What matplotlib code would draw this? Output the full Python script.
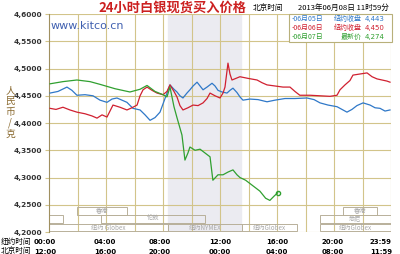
import matplotlib.pyplot as plt
import numpy as np
from matplotlib.patches import Rectangle

plt.rcParams['font.family'] = ['Noto Sans CJK SC', 'DejaVu Sans']

# 06月05日 (blue) - hours NY time, price
blue_h = [0.07, 0.63, 1.26, 1.61, 1.96, 2.53, 3.09, 3.58, 4.07, 4.42, 4.77, 5.12, 5.47, 5.89,
          6.39, 6.74, 7.09, 7.44, 7.79, 8.07, 8.28, 8.49, 8.77, 8.98, 9.19, 9.4, 9.68, 9.89,
          10.11, 10.39, 10.6, 10.81, 11.09, 11.44, 11.65, 11.86, 12.14, 12.49, 12.7, 12.91,
          13.19, 13.4, 13.61, 14.1, 14.67, 15.3, 15.86, 16.56, 17.26, 18.1, 18.6, 19.02,
          19.58, 20.21, 20.56, 20.91, 21.26, 21.61, 22.04, 22.53, 22.88, 23.23, 23.58, 23.93]
blue_p = [4.455, 4.458, 4.466, 4.460, 4.451, 4.452, 4.450, 4.442, 4.438, 4.444, 4.446, 4.442,
          4.438, 4.427, 4.424, 4.415, 4.405, 4.410, 4.420, 4.440, 4.455, 4.470, 4.462, 4.457,
          4.450, 4.446, 4.455, 4.461, 4.468, 4.475, 4.468, 4.461, 4.466, 4.473, 4.468, 4.460,
          4.457, 4.455, 4.460, 4.464, 4.456, 4.448, 4.442, 4.444, 4.443, 4.439, 4.442, 4.445,
          4.445, 4.446, 4.443, 4.437, 4.433, 4.430, 4.425, 4.420, 4.425, 4.432, 4.437, 4.433,
          4.428, 4.427, 4.422, 4.424]

# 06月06日 (red)
red_h = [0.07, 0.49, 0.98, 1.47, 1.96, 2.53, 3.02, 3.37, 3.72, 4.07, 4.49, 4.98, 5.47, 5.82,
         6.18, 6.39, 6.6, 6.88, 7.23, 7.58, 8.0, 8.28, 8.49, 8.77, 8.98, 9.19, 9.4, 9.75,
         10.11, 10.46, 10.81, 11.09, 11.3, 11.65, 12.0, 12.21, 12.35, 12.56, 12.7, 12.84,
         13.12, 13.4, 13.96, 14.6, 14.95, 15.3, 15.86, 16.42, 16.91, 17.26, 17.6, 18.32,
         19.02, 19.72, 20.21, 20.42, 20.77, 21.12, 21.33, 21.82, 22.32, 22.67, 23.02, 23.37,
         23.72, 23.93]
red_p = [4.427, 4.425, 4.429, 4.424, 4.420, 4.417, 4.413, 4.409, 4.415, 4.411, 4.433, 4.429,
         4.424, 4.428, 4.433, 4.450, 4.461, 4.466, 4.460, 4.455, 4.452, 4.458, 4.470, 4.458,
         4.448, 4.432, 4.424, 4.428, 4.433, 4.432, 4.437, 4.445, 4.455, 4.450, 4.446, 4.455,
         4.466, 4.510, 4.490, 4.479, 4.482, 4.485, 4.482, 4.479, 4.474, 4.470, 4.468, 4.466,
         4.466, 4.458, 4.451, 4.451, 4.450, 4.449, 4.451, 4.461, 4.470, 4.478, 4.488, 4.490,
         4.492, 4.485, 4.481, 4.479, 4.477, 4.475]

# 06月07日 (green, latest)
green_h = [0.07, 0.98, 1.96, 2.88, 3.58, 4.63, 5.68, 6.39, 6.88, 7.44, 8.0, 8.28, 8.49, 8.77,
           8.98, 9.33, 9.54, 9.75, 9.89, 10.25, 10.6, 10.95, 11.3, 11.5, 11.86, 12.21, 12.56,
           12.91, 13.19, 13.4, 13.8, 14.3, 14.8, 15.2, 15.5, 15.8, 16.05]
green_p = [4.472, 4.476, 4.479, 4.476, 4.471, 4.463, 4.457, 4.462, 4.469, 4.458, 4.452, 4.448,
           4.466, 4.430, 4.410, 4.378, 4.332, 4.345, 4.356, 4.350, 4.352, 4.345, 4.338, 4.295,
           4.305, 4.305, 4.310, 4.314, 4.305, 4.300, 4.295, 4.285, 4.275, 4.262, 4.258, 4.266,
           4.272]

yticks = [4.20, 4.25, 4.30, 4.35, 4.40, 4.45, 4.50, 4.55, 4.60]
ytick_labels = ['4,2000', '4,2500', '4,3000', '4,3500', '4,4000', '4,4500', '4,5000', '4,5500', '4,6000']
ny_labels = ['00:00', '04:00', '08:00', '12:00', '16:00', '20:00', '23:59']
bj_labels = ['12:00', '16:00', '20:00', '00:00', '04:00', '08:00', '11:59']
legend_dates = ['06月05日', '06月06日', '06月07日']
legend_kind = ['纽约收盘', '纽约收盘', '最新价']
legend_vals = ['4,443', '4,450', '4,274']

# market sessions: (row, start hour, end hour, label)
sessions = [(0, 1.96, 5.47, '香港'), (1, 0.0, 1.0, ''), (1, 3.65, 10.95, '伦敦'),
            (2, 0.0, 8.35, '纽约 Globex'), (2, 8.35, 13.55, '纽约NYMEX'),
            (2, 13.55, 17.4, '纽约Globex'), (2, 19.0, 24.0, '纽约Globex'),
            (1, 19.0, 24.0, '悉尼'), (0, 20.6, 23.0, '香港')]

grid_c = '#d2c48a'
fig = plt.figure(figsize=(4, 2.54), dpi=100)
ax = fig.add_axes([0.1225, 0.0866, 0.855, 0.858])
ax.set_xlim(0, 24)
ax.set_ylim(4.2, 4.6)

ax.axvspan(8.33, 13.5, color='#ebebf1', zorder=0)
for h in range(2, 25, 2):
    ax.axvline(h, color=grid_c, lw=0.8, zorder=1)
for y in yticks:
    ax.axhline(y, color=grid_c, lw=0.8, zorder=1)

# session boxes
row_top = [4.2455, 4.2305, 4.2150]
row_h = 0.0138
for row, s, e, lab in sessions:
    ax.add_patch(Rectangle((s, row_top[row] - row_h), e - s, row_h, fill=False,
                           ec='#b8b09a', lw=0.7, zorder=2))
    if lab:
        ax.text((s + e) / 2, row_top[row] - row_h / 2, lab, fontsize=4.5, color='#a8a8a8',
                ha='center', va='center', zorder=2)

ax.plot(blue_h, blue_p, color='#2f78c8', lw=0.9, zorder=3)
ax.plot(red_h, red_p, color='#d02030', lw=0.9, zorder=3)
ax.plot(green_h, green_p, color='#30a030', lw=0.9, zorder=4)
ax.plot(green_h[-1], green_p[-1], 'o', ms=3, mfc='none', mec='#30a030', zorder=4)

ax.set_yticks(yticks)
ax.set_yticklabels(ytick_labels, fontsize=5.3, color='#333333', fontweight='bold', family='DejaVu Sans')
ax.set_xticks([])
ax.tick_params(axis='y', length=3, color=grid_c, pad=2)
for side in ['top', 'right', 'bottom']:
    ax.spines[side].set_visible(False)
ax.spines['left'].set_color('#a09060')
ax.spines['left'].set_linewidth(0.8)

# bottom time labels
xs = [45, 105, 160, 220, 277, 333, 381]
fig.text(1 / 400, 1 - 242 / 254, '纽约时间', fontsize=5.5, va='center', ha='left')
fig.text(1 / 400, 1 - 251.5 / 254, '北京时间', fontsize=5.5, va='center', ha='left')
for x, a, b in zip(xs, ny_labels, bj_labels):
    fig.text(x / 400, 1 - 242 / 254, a, fontsize=5, va='center', ha='center',
             fontweight='bold', family='DejaVu Sans')
    fig.text(x / 400, 1 - 251.5 / 254, b, fontsize=5, va='center', ha='center',
             fontweight='bold', family='DejaVu Sans')

# y label
for i, ch in enumerate('人民币/克'):
    fig.text(10 / 400, 1 - (90 + i * 11) / 254, ch, fontsize=7, color='#8a6a30',
             ha='center', va='center')

# title and header
fig.text(172 / 400, 1 - 8 / 254, '24小时白银现货买入价格', fontsize=9.5, color='#cc2020',
         fontweight='bold', ha='center', va='center')
fig.text(268 / 400, 1 - 8 / 254, '北京时间', fontsize=5.5, ha='center', va='center')
fig.text(343 / 400, 1 - 8 / 254, '2013年06月08日 11时59分', fontsize=5.5, ha='center', va='center')
fig.text(51 / 400, 1 - 26 / 254, 'www.kitco.cn', fontsize=8, color='#4060b0', ha='left', va='center',
         family='DejaVu Sans')

# legend box
fig.patches.append(Rectangle((289 / 400, 1 - 42 / 254), 103 / 400, 28 / 254, transform=fig.transFigure,
                             fill=True, fc='white', ec='#b8b07a', lw=0.8, zorder=5))
cols = ['#2f78c8', '#d02030', '#30a030']
for i in range(3):
    y = 1 - (19 + i * 9) / 254
    fig.text(292 / 400, y, '-' + legend_dates[i], fontsize=5, color=cols[i], va='center', zorder=6)
    fig.text(362 / 400, y, legend_kind[i], fontsize=5, color=cols[i], va='center', ha='right', zorder=6)
    fig.text(365 / 400, y, legend_vals[i], fontsize=5, color=cols[i], va='center', zorder=6,
             family='DejaVu Sans')

fig.savefig('out.png', dpi=100)
